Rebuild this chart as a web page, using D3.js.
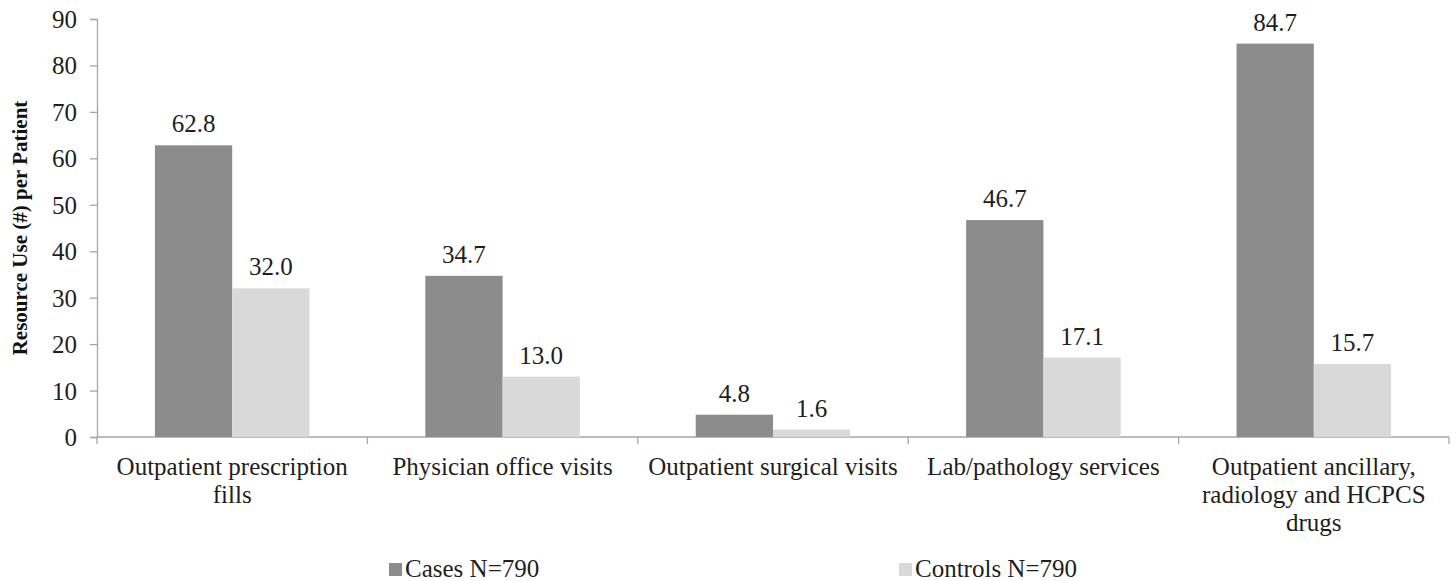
<!DOCTYPE html>
<html>
<head>
<meta charset="utf-8">
<script src="https://cdn.jsdelivr.net/npm/d3@7"></script>
<style>
  html, body { margin: 0; padding: 0; background: #fff; }
  svg { display: block; }
</style>
</head>
<body>
<svg id="chart" width="1456" height="581"></svg>
<script>
// Resource use per patient, cases vs. controls
const categories = [
  ["Outpatient prescription", "fills"],
  ["Physician office visits"],
  ["Outpatient surgical visits"],
  ["Lab/pathology services"],
  ["Outpatient ancillary,", "radiology and HCPCS", "drugs"]
];
const seriesNames = ["Cases N=790", "Controls N=790"];
const casesValues = [62.8, 34.7, 4.8, 46.7, 84.7];
const controlsValues = [32.0, 13.0, 1.6, 17.1, 15.7];
const yTicks = [0, 10, 20, 30, 40, 50, 60, 70, 80, 90];
const yTitle = "Resource Use (#) per Patient";

const colors = ["#8c8c8c", "#d9d9d9"];
const axisColor = "#a6a6a6";
const textColor = "#1e1e1e";
const serif = "Liberation Serif";

const svg = d3.select("#chart");
const plotLeft = 97, plotRight = 1449, plotTop = 19, plotBottom = 437;

const x0 = d3.scaleBand()
  .domain(d3.range(categories.length))
  .range([plotLeft, plotRight])
  .paddingInner(0).paddingOuter(0);
const x1 = d3.scaleBand()
  .domain([0, 1])
  .range([0, x0.bandwidth()])
  .paddingOuter(0.75).paddingInner(0);
const y = d3.scaleLinear().domain([0, 90]).range([plotBottom, plotTop]);

// Y axis
const yAxis = svg.append("g").attr("transform", `translate(${plotLeft},0)`)
  .call(d3.axisLeft(y).tickValues(yTicks).tickSize(7).tickPadding(13).tickFormat(d3.format("d")));
yAxis.attr("font-family", null).attr("font-size", null);
yAxis.selectAll("path, line").attr("stroke", axisColor).attr("stroke-width", 1.3);
yAxis.selectAll("text")
  .style("font-family", serif).style("font-size", "25px")
  .attr("fill", textColor).attr("dy", "0.34em");

// X axis with category separators
svg.append("line").attr("x1", plotLeft).attr("x2", plotRight).attr("y1", plotBottom).attr("y2", plotBottom)
  .attr("stroke", axisColor).attr("stroke-width", 1.3);
const sepX = d3.range(categories.length + 1).map(i => i < categories.length ? x0(i) : x0(i - 1) + x0.bandwidth());
svg.selectAll(".sep").data(sepX).join("line")
  .attr("x1", d => d).attr("x2", d => d).attr("y1", plotBottom).attr("y2", plotBottom + 7)
  .attr("stroke", axisColor).attr("stroke-width", 1.3);

// Bars with value labels
const series = [casesValues, controlsValues];
series.forEach((vals, s) => {
  const g = svg.append("g");
  g.selectAll("rect").data(vals).join("rect")
    .attr("x", (d, i) => x0(i) + x1(s))
    .attr("y", d => y(d))
    .attr("width", x1.bandwidth())
    .attr("height", d => y(0) - y(d))
    .attr("fill", colors[s]);
  g.selectAll("text").data(vals).join("text")
    .attr("x", (d, i) => x0(i) + x1(s) + x1.bandwidth() / 2)
    .attr("y", d => y(d) - 13)
    .attr("text-anchor", "middle")
    .style("font-family", serif).style("font-size", "25px")
    .attr("fill", textColor)
    .text(d => d.toFixed(1));
});

// Category labels
const catG = svg.append("g");
categories.forEach((lines, i) => {
  const cx = x0(i) + x0.bandwidth() / 2;
  const t = catG.append("text")
    .attr("text-anchor", "middle")
    .style("font-family", serif).style("font-size", "25px")
    .attr("fill", textColor);
  lines.forEach((ln, k) => {
    t.append("tspan").attr("x", cx).attr("y", 475 + k * 28).text(ln);
  });
});

// Y axis title
svg.append("text")
  .attr("transform", `translate(27,${(plotTop + plotBottom) / 2}) rotate(-90)`)
  .attr("text-anchor", "middle")
  .style("font-family", serif).style("font-size", "21px").style("font-weight", "bold")
  .attr("fill", "#111")
  .text(yTitle);

// Legend
const legendX = [389, 899];
seriesNames.forEach((name, s) => {
  svg.append("rect").attr("x", legendX[s]).attr("y", 563).attr("width", 13).attr("height", 13)
    .attr("fill", colors[s]);
  svg.append("text").attr("x", legendX[s] + 16).attr("y", 577)
    .style("font-family", serif).style("font-size", "25px")
    .attr("fill", textColor).text(name);
});
</script>
</body>
</html>
